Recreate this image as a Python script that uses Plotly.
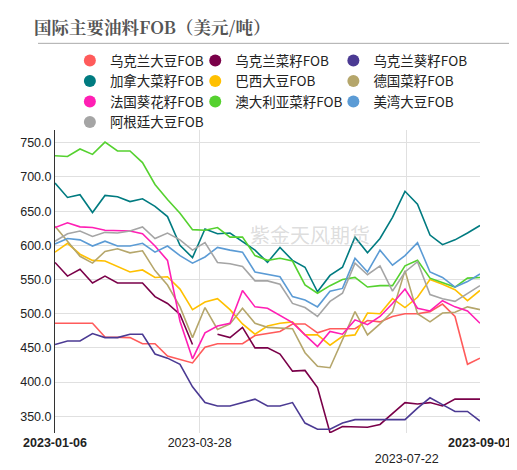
import pandas as pd
import plotly.graph_objects as go

# weekly FOB prices, USD/t
dates = pd.date_range("2023-01-06", "2023-09-01", freq="7D")

ua_soy = [486,486,486,486,466,466,465,456,456,438,433,428,451,456,456,456,468,
          471,474,485,485,472,478,478,478,490,488,496,500,500,503,514,496,426,435]
ua_rape = [575,555,565,545,555,545,545,545,525,515,499,455,None,470,465,480,450,
           450,441,416,417,392,326,335,335,334,338,354,370,368,370,365,375,375,375]
ua_sun = [455,460,460,471,465,465,470,470,441,435,426,393,370,365,365,370,375,
          365,365,370,340,331,331,340,345,345,345,345,345,362,377,367,357,357,343]
ca_rape = [691,670,674,648,673,671,664,668,657,642,600,582,624,617,618,606,593,
           575,597,578,568,532,556,568,612,589,610,641,679,660,615,601,608,618,629]
br_soy = [590,603,587,578,577,569,561,564,553,554,536,506,517,522,506,485,470,
          482,486,488,469,469,454,467,469,501,500,522,509,524,550,543,535,519,534]
de_rape = [628,606,584,574,591,595,589,592,563,542,510,465,509,477,485,508,486,
           480,479,478,443,423,421,461,503,469,485,503,563,500,488,501,502,510,506]
fr_sun = [626,633,627,626,622,622,621,617,599,578,489,434,472,482,486,534,510,
          508,498,487,469,452,474,470,491,484,496,515,536,508,504,519,510,504,486]
au_rape = [731,730,741,733,751,738,738,721,689,667,647,623,622,626,612,612,585,
           578,581,577,542,530,541,550,553,539,541,541,570,578,552,545,539,552,553]
us_soy = [602,610,608,599,606,599,599,603,590,599,585,574,583,597,593,590,561,
          558,554,525,520,510,533,537,581,561,593,571,585,604,561,553,539,547,558]
ar_soy = [606,617,621,613,619,618,621,627,610,618,608,593,604,575,573,569,548,
          548,543,515,509,496,518,530,574,557,570,533,561,576,528,522,518,530,541]

series = [
    ("乌克兰大豆FOB", ua_soy, "#ff5b5b"),
    ("乌克兰菜籽FOB", ua_rape, "#7a0049"),
    ("乌克兰葵籽FOB", ua_sun, "#4b3a93"),
    ("加拿大菜籽FOB", ca_rape, "#007b80"),
    ("巴西大豆FOB", br_soy, "#ffc000"),
    ("德国菜籽FOB", de_rape, "#b5a66b"),
    ("法国葵花籽FOB", fr_sun, "#ff1fb4"),
    ("澳大利亚菜籽FOB", au_rape, "#55d12f"),
    ("美湾大豆FOB", us_soy, "#5b9bd5"),
    ("阿根廷大豆FOB", ar_soy, "#a5a5a5"),
]
legend_ids = ["legend", "legend2", "legend3"]

fig = go.Figure()
for i, (name, vals, color) in enumerate(series):
    fig.add_trace(go.Scatter(x=dates, y=vals, mode="lines", name=name,
                             line=dict(color=color, width=1.6), showlegend=False))
    # circle swatch for the legend, laid out in three columns
    fig.add_trace(go.Scatter(x=[None], y=[None], mode="markers", name=name,
                             legend=legend_ids[i % 3],
                             marker=dict(color=color, size=12, symbol="circle")))

leg = dict(yanchor="top", y=1.28, xanchor="left", font=dict(size=13.5),
           itemwidth=30, tracegroupgap=0, bgcolor="rgba(0,0,0,0)")

fig.update_layout(
    width=517, height=470,
    margin=dict(l=39, r=45, t=122, b=40),
    plot_bgcolor="white", paper_bgcolor="white",
    font=dict(family="Noto Sans CJK SC", size=12, color="#222"),
    legend=dict(leg, x=0.035),
    legend2=dict(leg, x=0.33),
    legend3=dict(leg, x=0.655),
    xaxis=dict(type="date", range=["2023-01-06", "2023-09-01"],
               tickvals=["2023-01-06", "2023-03-28", "2023-07-22", "2023-09-01"],
               ticktext=["<b>2023-01-06</b>", "2023-03-28", "<br>2023-07-22", "<b>2023-09-01</b>"],
               showgrid=True, gridcolor="#e0e0e0", showline=False, ticks="",
               tickfont=dict(family="Arial, Liberation Sans", size=12.5, color="#222")),
    yaxis=dict(range=[325.5, 768.7], tickvals=[350, 400, 450, 500, 550, 600, 650, 700, 750],
               tickformat=".1f", showgrid=True, gridcolor="#e0e0e0",
               showline=True, linecolor="#333", linewidth=1, ticks="",
               tickfont=dict(family="Arial, Liberation Sans", size=12.5, color="#222")),
)

fig.add_annotation(text="<b>国际主要油料FOB（美元/吨）</b>", xref="paper", yref="paper",
                   x=-0.055, y=1.341, xanchor="left", yanchor="middle", showarrow=False,
                   font=dict(family="Noto Serif CJK SC, Noto Sans CJK SC", size=17.5, color="#555"))
fig.add_shape(type="line", xref="paper", yref="paper", x0=-0.04, x1=1.09, y0=1.286, y1=1.286,
              line=dict(color="#aaa", width=1))
fig.add_annotation(text="紫金天风期货", xref="paper", yref="paper", x=0.6, y=0.71,
                   showarrow=False, font=dict(size=20, color="rgba(180,180,180,0.45)"))

fig.write_html("out.html")
